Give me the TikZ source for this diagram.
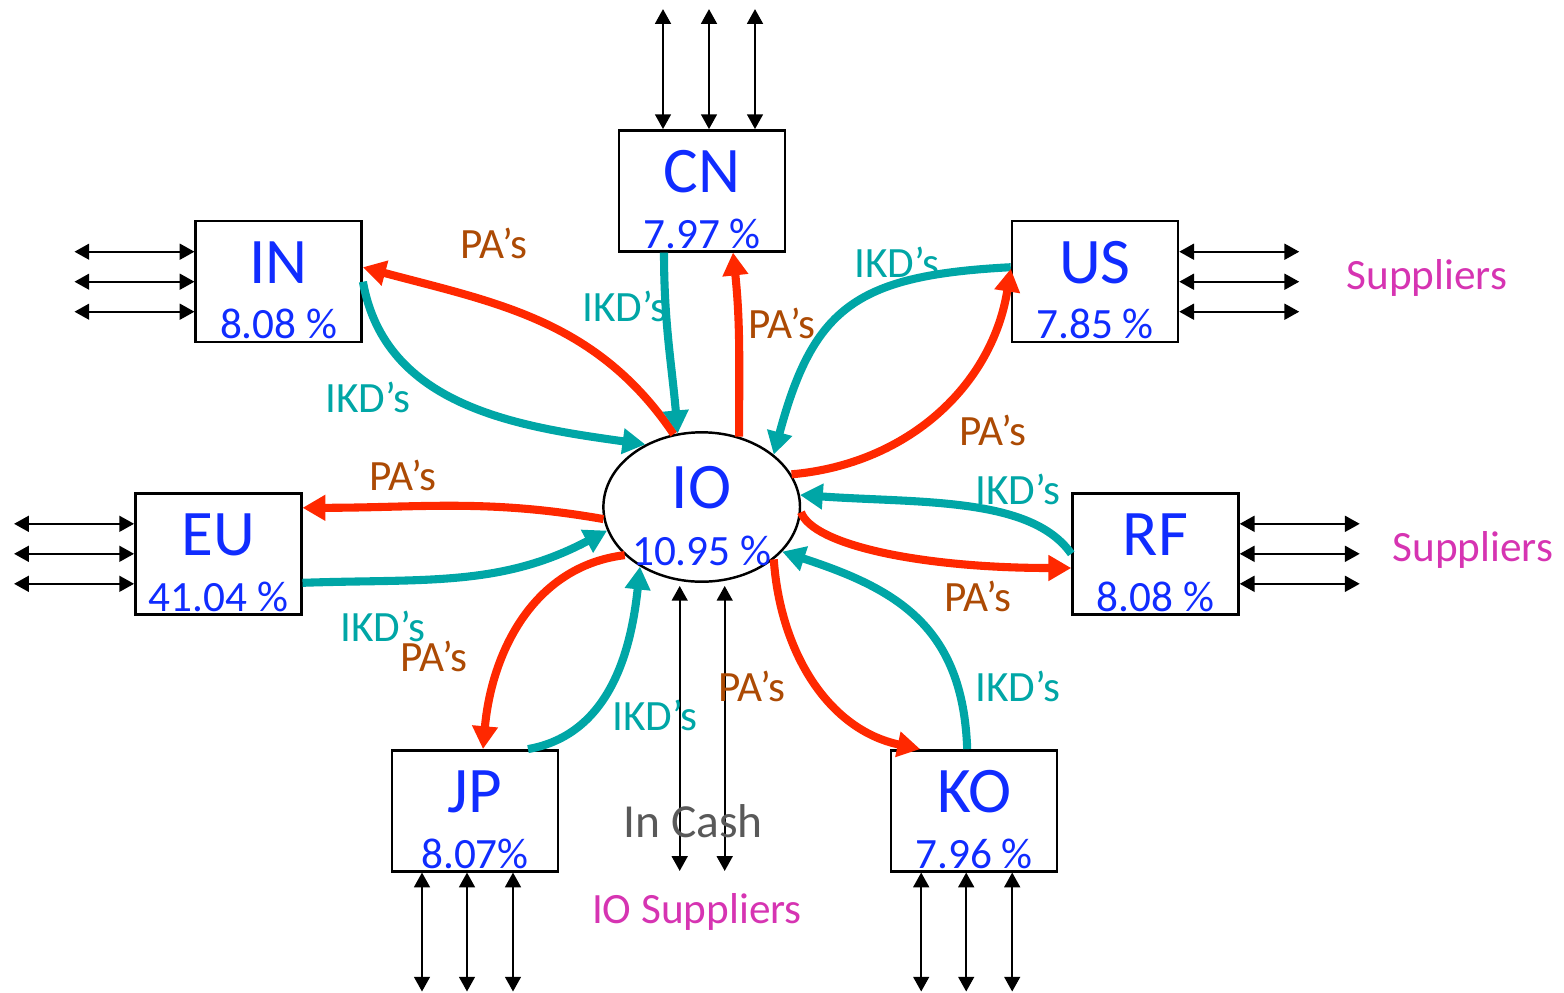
\documentclass[tikz,border=0pt]{standalone}
\usepackage{fontspec}
\setmainfont{Carlito}
\usetikzlibrary{arrows.meta,positioning,calc,shapes.geometric}
\definecolor{Royal}{RGB}{16,44,255}
\definecolor{Flame}{RGB}{255,40,0}
\definecolor{Lagoon}{RGB}{0,166,166}
\definecolor{Rust}{RGB}{172,74,4}
\definecolor{Orchid}{RGB}{214,52,178}
\definecolor{Black65}{RGB}{89,89,89}

\begin{document}
\begin{tikzpicture}[
  every node/.style={inner sep=0pt, font=\fontsize{12.3}{14}\selectfont,
    text height=7.8pt, text depth=0pt},
  box/.style={draw=black, line width=0.7pt, minimum width=1.66cm, minimum height=1.21cm},
  hub/.style={draw=black, ellipse, line width=0.7pt, minimum width=1.966cm, minimum height=1.494cm},
  tag/.style={Royal, font=\fontsize{18.5}{22}\selectfont, text height=11.7pt},
  pct/.style={Royal},
  pa/.style={Flame, line width=2.3pt, -{Triangle[length=6.5pt, width=7pt]}},
  ikd/.style={Lagoon, line width=2.3pt, -{Triangle[length=6.5pt, width=7pt]}},
  palbl/.style={Rust},
  ikdlbl/.style={Lagoon},
  flow/.style={black, line width=0.6pt,
    {Triangle[length=4.2pt, width=4.5pt]}-{Triangle[length=4.2pt, width=4.5pt]}}
]

\useasboundingbox (0,0) rectangle (15.64,-9.92);

% ============================================================
% Country boxes: name on top, share below
% ============================================================
\foreach \nm/\cx/\cy/\pc in {CN/7.02/-1.908/7.97 \%, IN/2.787/-2.817/8.08 \%,
    US/10.95/-2.817/7.85 \%, EU/2.183/-5.538/41.04 \%, RF/11.555/-5.538/8.08 \%,
    JP/4.75/-8.108/8.07\%, KO/9.742/-8.108/7.96 \%}{
  \node[box] (\nm) at (\cx,\cy) {};
  \node[tag] (\nm-t) at ($(\nm.center)+(0,0.19)$) {\nm};
  \node[pct] (\nm-p) at ($(\nm.center)+(0,-0.435)$) {\pc};
}

% ============================================================
% IO hub
% ============================================================
\node[hub] (IO) at (7.017,-5.07) {};
\node[tag] (IO-t) at ($(IO.center)+(0,0.195)$) {IO};
\node[pct] (IO-p) at ($(IO.center)+(0,-0.445)$) {10.95 \%};

% ============================================================
% Supplier links (double arrows)
% ============================================================
\foreach \d in {-0.39, 0.07, 0.53}{
  \draw[flow] ([xshift=\d cm]CN.north) -- ++(0,1.2);
}
\foreach \d in {-0.53, -0.08, 0.38}{
  \draw[flow] ([xshift=\d cm]JP.south) -- ++(0,-1.19);
  \draw[flow] ([xshift=\d cm]KO.south) -- ++(0,-1.19);
}
\foreach \d in {0.3, 0, -0.3}{
  \draw[flow] ([yshift=\d cm]IN.west) -- ++(-1.2,0);
  \draw[flow] ([yshift=\d cm]EU.west) -- ++(-1.2,0);
  \draw[flow] ([yshift=\d cm]US.east) -- ++(1.2,0);
  \draw[flow] ([yshift=\d cm]RF.east) -- ++(1.2,0);
}
\foreach \d in {-0.22, 0.23}{
  \draw[flow] ([xshift=\d cm, yshift=-0.03cm]IO.south) -- ++(0,-2.85);
}

% ============================================================
% PA's (red) and IKD's (teal) between IO and the countries
% ============================================================
% IN
\draw[pa] (IO.111) to[out=124, in=-15] ([yshift=1.45mm]IN.east);
\draw[ikd] (IN.east) to[out=-80, in=172] (IO.132);
% CN
\draw[ikd] ([xshift=-3.8mm]CN.south) to[out=-90, in=95] (IO.108);
\draw[pa] (IO.62) to[out=90, in=-84] ([xshift=3.1mm]CN.south);
% US
\draw[ikd] ([yshift=1.45mm]US.west) to[out=183, in=75, looseness=1.3] (IO.36);
\draw[pa] (IO.20) to[out=5, in=-99] ([yshift=1.3mm]US.west);
% RF
\draw[ikd] (RF.west) to[out=125, in=-4, out distance=0.7cm, in distance=1.2cm] (IO.7);
\draw[pa] (IO.-3) to[out=-70, in=180, out distance=0.35cm, in distance=1.5cm]
  ([yshift=-1.42mm]RF.west);
% KO
\draw[ikd] ([xshift=-0.7mm]KO.north) to[out=92, in=-18, looseness=1.15] (IO.-29);
\draw[pa] (IO.-36) to[out=-86, in=168] ([xshift=-5.4mm]KO.north);
% EU
\draw[pa] (IO.187) to[out=170, in=0] ([yshift=4.6mm]EU.east);
\draw[ikd] ([yshift=-2.9mm]EU.east) to[out=2, in=-152] (IO.194);
% JP
\draw[pa] (IO.212) to[out=187, in=85] ([xshift=0.8mm]JP.north);
\draw[ikd] ([xshift=5.3mm]JP.north) to[out=10, in=-96] (IO.224);

% ============================================================
% Labels
% ============================================================
\node[palbl] (pa1) at (4.94,-2.45) {PA’s};
\node[palbl] (pa2) at (7.82,-3.25) {PA’s};
\node[palbl] (pa3) at (9.93,-4.32) {PA’s};
\node[palbl] (pa4) at (4.03,-4.77) {PA’s};
\node[palbl] (pa5) at (9.78,-5.98) {PA’s};
\node[palbl] (pa6) at (4.34,-6.58) {PA’s};
\node[palbl] (pa7) at (7.52,-6.88) {PA’s};

\node[ikdlbl] (ikd1) at (3.68,-3.99) {IKD’s};
\node[ikdlbl] (ikd2) at (6.25,-3.08) {IKD’s};
\node[ikdlbl] (ikd3) at (8.97,-2.64) {IKD’s};
\node[ikdlbl] (ikd4) at (10.18,-4.91) {IKD’s};
\node[ikdlbl] (ikd5) at (3.83,-6.28) {IKD’s};
\node[ikdlbl] (ikd6) at (6.55,-7.17) {IKD’s};
\node[ikdlbl] (ikd7) at (10.18,-6.88) {IKD’s};

\node[Black65, font=\fontsize{13.5}{16}\selectfont, text height=8.6pt] (cash) at (6.93,-8.22) {In Cash};
\node[Orchid] (iosup) at (6.97,-9.10) {IO Suppliers};
\node[Orchid] (sup1) at (14.27,-2.76) {Suppliers};
\node[Orchid] (sup2) at (14.73,-5.48) {Suppliers};

\end{tikzpicture}
\end{document}
